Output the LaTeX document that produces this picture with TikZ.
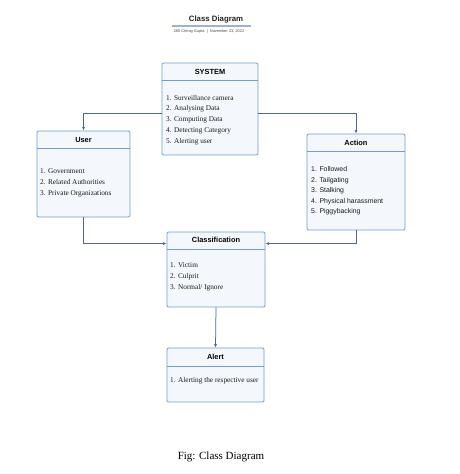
\documentclass[tikz,border=0pt]{standalone}
\usepackage{fontspec}
\setmainfont{Liberation Serif}
\setsansfont{Liberation Sans}
\usetikzlibrary{arrows.meta,calc}
\definecolor{bordc}{HTML}{6F9DD3}
\definecolor{fillc}{HTML}{F4F8FD}
\definecolor{connc}{HTML}{4A6890}
\definecolor{titlec}{HTML}{222222}
\definecolor{ulinec}{HTML}{9FB2CC}
\tikzset{
  box/.style={draw=bordc, fill=fillc, line width=0.9pt, rounded corners=1.2pt, inner sep=0pt},
  sepline/.style={draw=bordc, line width=0.8pt},
  head/.style={font=\sffamily\bfseries\fontsize{7.4}{8}\selectfont, text=black, inner sep=0pt},
  items/.style={font=\fontsize{7.3}{10.8}\selectfont, align=left, anchor=west, inner sep=0pt, text=black!90},
  sitems/.style={font=\sffamily\fontsize{6.9}{10.5}\selectfont, align=left, anchor=west, inner sep=0pt, text=black!90},
  conn/.style={draw=connc, line width=0.75pt, -{Latex[length=3.5pt,width=3pt]}},
}
\begin{document}
\begin{tikzpicture}[x=1pt,y=-1pt]
\useasboundingbox (0,0) rectangle (460,474);
% title
\node[font=\sffamily\bfseries\fontsize{7.8}{9}\selectfont, text=titlec, inner sep=0pt] (title) at (216,19) {Class Diagram};
\coordinate (ulA) at (172,26);
\coordinate (ulB) at (251,26);
\draw[ulinec, line width=1.1pt] (ulA) -- (ulB);
\node[font=\sffamily\fontsize{3.9}{4.5}\selectfont, text=black!70, inner sep=0pt] (subt) at (209,31.5) {280 Chirag Gupta \ | \ November 23, 2022};
% boxes
\node[box, minimum width=96, minimum height=92] (sys) at (210,109) {};
\node[box, minimum width=93, minimum height=86] (usr) at (83.5,174) {};
\node[box, minimum width=98, minimum height=96] (act) at (356,182) {};
\node[box, minimum width=98, minimum height=75] (cls) at (216,269.5) {};
\node[box, minimum width=97, minimum height=54] (alr) at (215.5,375) {};
% separators
\draw[sepline] (sys.west |- 0,80) -- (sys.east |- 0,80);
\draw[sepline] (usr.west |- 0,148) -- (usr.east |- 0,148);
\draw[sepline] (act.west |- 0,151) -- (act.east |- 0,151);
\draw[sepline] (cls.west |- 0,249) -- (cls.east |- 0,249);
\draw[sepline] (alr.west |- 0,366) -- (alr.east |- 0,366);
% headers
\node[head] (sysh) at (210,71.5) {SYSTEM};
\node[head] (usrh) at (83.5,139.5) {User};
\node[head] (acth) at (356,142.5) {Action};
\node[head] (clsh) at (216,240) {Classification};
\node[head] (alrh) at (215.5,356.5) {Alert};
% items
\node[items] (sysi) at (166,120) {1. Surveillance camera\\2. Analysing Data\\3. Computing Data\\4. Detecting Category\\5. Alerting user};
\node[items] (usri) at (40,183) {1. Government\\2. Related Authorities\\3. Private Organizations};
\node[sitems] (acti) at (311,191) {1. Followed\\2. Tailgating\\3. Stalking\\4. Physical harassment\\5. Piggybacking};
\node[items] (clsi) at (170,277) {1. Victim\\2. Culprit\\3. Normal/ Ignore};
\node[items] (alri) at (170,381) {1. Alerting the respective user};
% connectors
\draw[conn] ($(sys.west)+(0,4)$) -| (usr.north);
\draw[conn] ($(sys.east)+(0,4)$) -| (act.north);
\draw[conn] (usr.south) |- ($(cls.north west)+(0,12)$);
\draw[conn] (act.south) |- ($(cls.north east)+(0,12)$);
\draw[conn] (cls.south) -- (alr.north);
% caption
\node[font=\fontsize{11}{13}\selectfont, inner sep=0pt] (cap) at (221,457) {Fig: Class Diagram};
\end{tikzpicture}
\end{document}
